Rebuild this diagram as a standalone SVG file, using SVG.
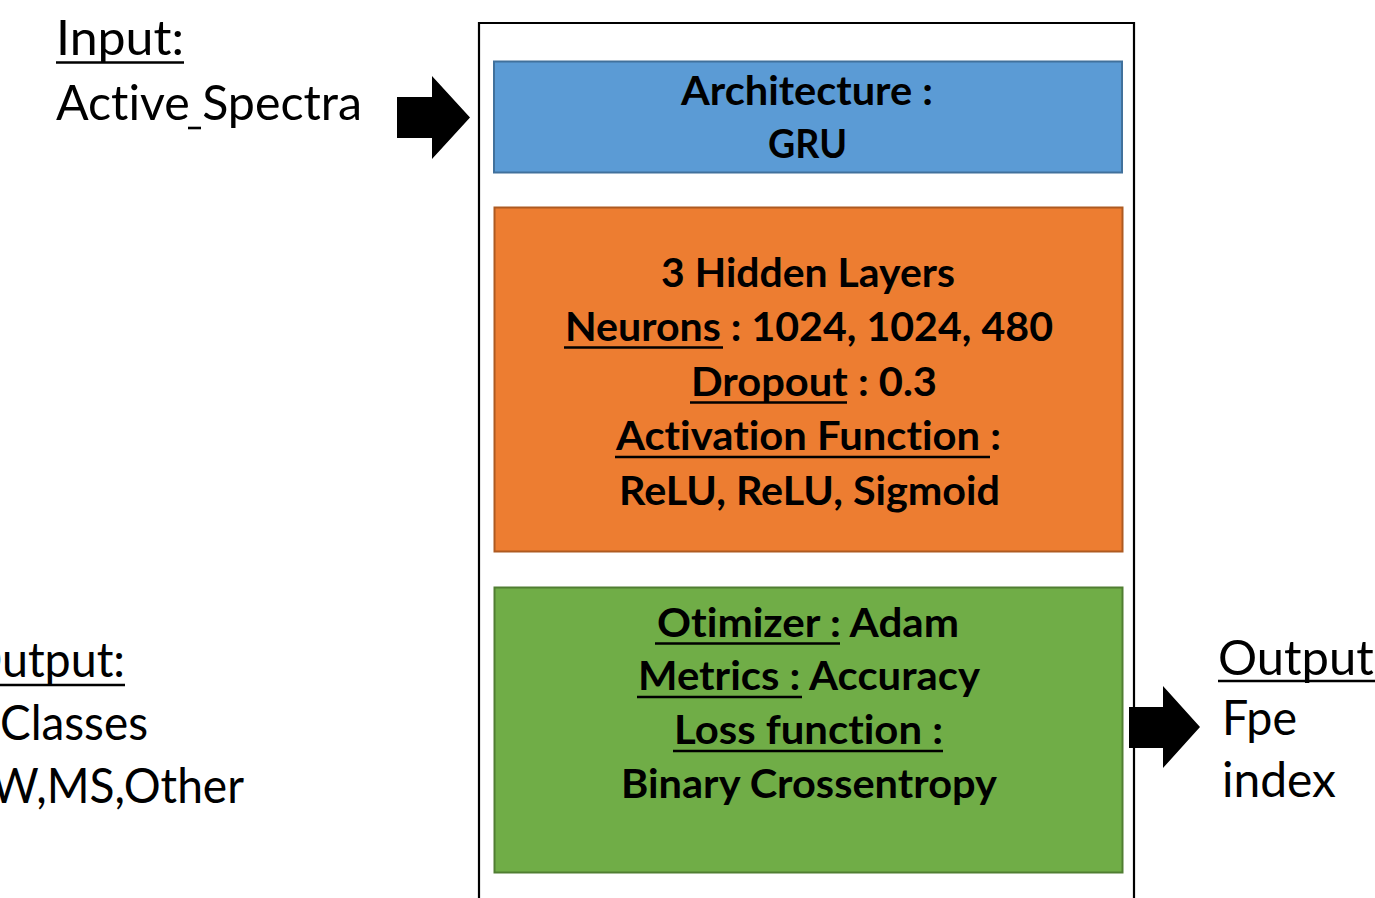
<svg xmlns="http://www.w3.org/2000/svg" width="1375" height="898" viewBox="0 0 1375 898">
  <style>
    text { font-family: Lato, Carlito, "Liberation Sans", sans-serif; fill: #000; font-variant-ligatures: none; }
    .side { font-size: 48px; }
    .lbl { font-size: 40px; font-weight: bold; }
    .ul { stroke: #000; stroke-width: 2.6; }
    .arrow { fill: #000; stroke: none; }
  </style>

  <rect width="1375" height="898" fill="#ffffff"/>

  <!-- model container frame (open at the bottom edge) -->
  <g id="container">
    <path d="M479 898 V23 H1134 V898" fill="none" stroke="#000" stroke-width="2.2"/>
  </g>

  <!-- input label -->
  <g id="input">
    <text class="side" x="56" y="55" textLength="128" lengthAdjust="spacingAndGlyphs">Input:</text>
    <line class="ul" x1="56" y1="62.5" x2="184" y2="62.5"/>
    <text class="side" x="56" y="120" textLength="306" lengthAdjust="spacingAndGlyphs">Active Spectra</text>
    <line class="ul" x1="188" y1="128" x2="201" y2="128"/>
  </g>

  <!-- classification output label -->
  <g id="output-classes">
    <text class="side" x="-35" y="677" textLength="160" lengthAdjust="spacingAndGlyphs">Output:</text>
    <line class="ul" x1="-35" y1="685" x2="125" y2="685"/>
    <text class="side" x="0" y="740" textLength="148" lengthAdjust="spacingAndGlyphs">Classes</text>
    <text class="side" x="-9" y="803" textLength="253" lengthAdjust="spacingAndGlyphs">W,MS,Other</text>
  </g>

  <!-- index output label -->
  <g id="output-index">
    <text class="side" x="1218" y="675" textLength="168" lengthAdjust="spacingAndGlyphs">Output:</text>
    <line class="ul" x1="1218" y1="681" x2="1386" y2="681"/>
    <text class="side" x="1222" y="735" textLength="75" lengthAdjust="spacingAndGlyphs">Fpe</text>
    <text class="side" x="1222" y="797" textLength="114" lengthAdjust="spacingAndGlyphs">index</text>
  </g>

  <!-- architecture block -->
  <g id="architecture">
    <rect x="494" y="61.5" width="628" height="111" fill="#5B9BD5" stroke="#41719C" stroke-width="2"/>
    <text class="lbl" x="681" y="105" textLength="252" lengthAdjust="spacingAndGlyphs">Architecture :</text>
    <text class="lbl" x="768" y="158" textLength="79" lengthAdjust="spacingAndGlyphs">GRU</text>
  </g>

  <!-- hidden layer settings -->
  <g id="layers">
    <rect x="494.5" y="207.5" width="628" height="344" fill="#ED7D31" stroke="#AE5A21" stroke-width="2"/>
    <text class="lbl" x="661" y="287" textLength="294" lengthAdjust="spacingAndGlyphs">3 Hidden Layers</text>
    <text class="lbl" x="565" y="341" textLength="488" lengthAdjust="spacingAndGlyphs">Neurons : 1024, 1024, 480</text>
    <line class="ul" x1="564" y1="347.5" x2="723" y2="347.5"/>
    <text class="lbl" x="691" y="396" textLength="246" lengthAdjust="spacingAndGlyphs">Dropout : 0.3</text>
    <line class="ul" x1="690" y1="402.5" x2="847" y2="402.5"/>
    <text class="lbl" x="616" y="450" textLength="385" lengthAdjust="spacingAndGlyphs">Activation Function :</text>
    <line class="ul" x1="615" y1="457" x2="990" y2="457"/>
    <text class="lbl" x="619" y="505" textLength="381" lengthAdjust="spacingAndGlyphs">ReLU, ReLU, Sigmoid</text>
  </g>

  <!-- training settings -->
  <g id="training">
    <rect x="494.5" y="587.5" width="628" height="285" fill="#70AD47" stroke="#507E32" stroke-width="2"/>
    <text class="lbl" x="657" y="637" textLength="302" lengthAdjust="spacingAndGlyphs">Otimizer : Adam</text>
    <line class="ul" x1="655" y1="643.5" x2="840" y2="643.5"/>
    <text class="lbl" x="638" y="690" textLength="342" lengthAdjust="spacingAndGlyphs">Metrics : Accuracy</text>
    <line class="ul" x1="637" y1="697" x2="802" y2="697"/>
    <text class="lbl" x="674" y="744" textLength="269" lengthAdjust="spacingAndGlyphs">Loss function :</text>
    <line class="ul" x1="673" y1="751" x2="943" y2="751"/>
    <text class="lbl" x="621" y="798" textLength="376" lengthAdjust="spacingAndGlyphs">Binary Crossentropy</text>
  </g>

  <!-- block arrows into and out of the model -->
  <g id="connectors">
    <polygon class="arrow" points="397,97 432,97 432,76 470,117.5 432,159 432,138 397,138"/>
    <polygon class="arrow" points="1129,707 1163,707 1163,686 1200,727 1163,768 1163,748 1129,748"/>
  </g>
</svg>
